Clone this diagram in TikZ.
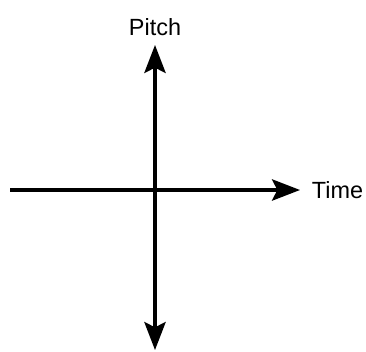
\documentclass[tikz,border=0pt]{standalone}
\usepackage{fontspec}
\setmainfont{Liberation Sans}
\usetikzlibrary{positioning,arrows.meta}

\begin{document}
\begin{tikzpicture}[x=0.03cm, y=0.03cm, font=\fontsize{20}{24}\selectfont]
\tikzset{
  axis/.style={line width=2.8pt, -{Stealth[length=0.84cm, width=0.64cm, inset=0.16cm]}},
  axislabel/.style={inner sep=0pt}
}
  \useasboundingbox (0,0) rectangle (366,351);
  % axis ends
  \coordinate (origin) at (155,161);
  \coordinate (left) at (10,161);
  \coordinate (right) at (300,161);
  \coordinate (top) at (155,306);
  \coordinate (bottom) at (155,1);
  \draw[axis] (origin) -- (top);
  \draw[axis] (origin) -- (bottom);
  \draw[axis] (left) -- (right);
  \node[axislabel] (pitch) at (155,324) {Pitch};
  \node[axislabel, right=10pt of right] (time) {Time};
\end{tikzpicture}
\end{document}
